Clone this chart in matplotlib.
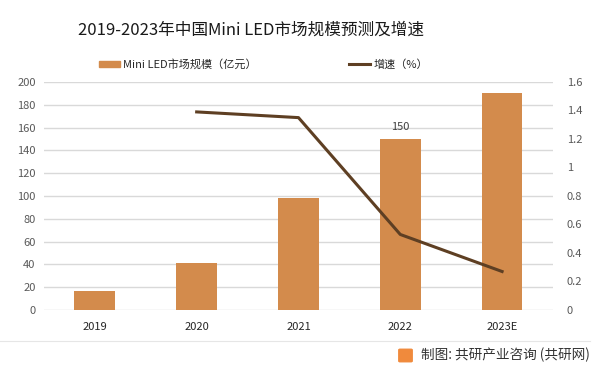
import matplotlib.pyplot as plt
from matplotlib.lines import Line2D
from matplotlib.patches import FancyBboxPatch, Rectangle

plt.rcParams['font.family'] = ['Noto Sans CJK SC', 'DejaVu Sans']

years = ['2019', '2020', '2021', '2022', '2023E']
market_size = [17, 41, 98, 150, 190]
growth_years = ['2020', '2021', '2022', '2023E']
growth_rate = [1.39, 1.35, 0.53, 0.27]

left_ticks = list(range(0, 201, 20))
right_ticks = [0, 0.2, 0.4, 0.6, 0.8, 1, 1.2, 1.4, 1.6]
right_labels = ['0', '0.2', '0.4', '0.6', '0.8', '1', '1.2', '1.4', '1.6']

BAR_COLOR = '#D38B4C'
LINE_COLOR = '#5E3F23'
TICK_COLOR = '#595959'
GRID_COLOR = '#D9D9D9'

fig = plt.figure(figsize=(6.02, 3.72), dpi=100)
ax = fig.add_axes([0.073, 0.1667, 0.8456, 0.6129])

x = list(range(len(years)))
ax.bar(x, market_size, width=0.4, color=BAR_COLOR, zorder=2)
ax.set_xlim(-0.5, len(years) - 0.5)
ax.set_ylim(0, 200)
ax.set_yticks(left_ticks)
ax.set_xticks(x)
ax.set_xticklabels(years)
ax.grid(axis='y', color=GRID_COLOR, linewidth=1, zorder=0)
for spine in ax.spines.values():
    spine.set_visible(False)
ax.tick_params(length=0, labelsize=8, labelcolor=TICK_COLOR, pad=6)
ax.tick_params(axis='x', labelcolor='#262626', pad=9)

# label on 2022 bar only
ax.text(3, 150 + 6, '150', ha='center', va='bottom', fontsize=8, color='#404040')

ax2 = ax.twinx()
gx = [years.index(y) for y in growth_years]
ax2.plot(gx, growth_rate, color=LINE_COLOR, linewidth=2.2, zorder=3)
ax2.set_ylim(0, 1.6)
ax2.set_yticks(right_ticks)
ax2.set_yticklabels(right_labels)
for spine in ax2.spines.values():
    spine.set_visible(False)
ax2.tick_params(length=0, labelsize=8, labelcolor=TICK_COLOR, pad=10)

fig.text(251 / 602, 0.918, '2019-2023年中国Mini LED市场规模预测及增速', ha='center', va='center',
         fontsize=12, color='#1a1a1a')

# legend
fig.patches.append(Rectangle((99 / 602, 1 - 67 / 372), 21 / 602, 6 / 372,
                             transform=fig.transFigure, color=BAR_COLOR))
fig.text(123 / 602, 1 - 64 / 372, 'Mini LED市场规模（亿元）', va='center', fontsize=8, color='#262626')
fig.lines.append(Line2D([349 / 602, 370 / 602], [1 - 64 / 372, 1 - 64 / 372],
                        transform=fig.transFigure, color=LINE_COLOR, linewidth=2.2))
fig.text(374 / 602, 1 - 64 / 372, '增速（%）', va='center', fontsize=8, color='#262626')

# footer
fig.lines.append(Line2D([0, 590 / 602], [1 - 341 / 372, 1 - 341 / 372],
                        transform=fig.transFigure, color='#E6E6E6', linewidth=0.8))
fig.patches.append(FancyBboxPatch((400 / 602, 1 - 361 / 372), 11 / 602, 11 / 372,
                                  boxstyle='round,pad=0.002', transform=fig.transFigure,
                                  color='#F08A3C'))
fig.text(590 / 602, 1 - 355 / 372, '制图: 共研产业咨询 (共研网)', ha='right', va='center',
         fontsize=9.8, color='#333333')

fig.savefig('out.png', dpi=100)
